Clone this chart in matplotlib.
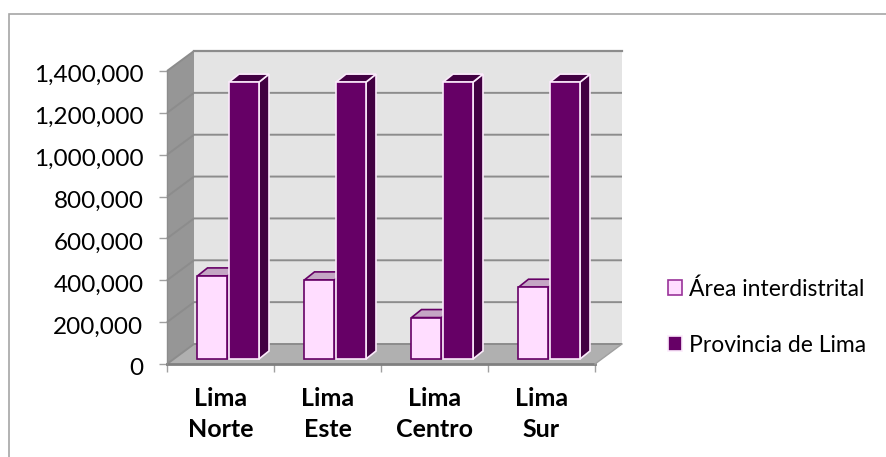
import matplotlib
matplotlib.use("Agg")
import matplotlib.pyplot as plt
from matplotlib.patches import Polygon, Rectangle
from matplotlib.transforms import ScaledTranslation

categories = ["Lima\nNorte", "Lima\nEste", "Lima\nCentro", "Lima\nSur"]
area_interdistrital = [397000, 378000, 198000, 343000]
provincia_lima = [1323000, 1323000, 1323000, 1323000]
series_names = ["Área interdistrital", "Provincia de Lima"]
y_ticks = [0, 200000, 400000, 600000, 800000, 1000000, 1200000, 1400000]

W, H = 887, 457
plt.rcParams["font.family"] = ["Lato", "DejaVu Sans"]
fig = plt.figure(figsize=(W / 100, H / 100), dpi=100, facecolor="white")
border = Rectangle((9 / W, 1 - 480 / H), 900 / W, 465.5 / H, transform=fig.transFigure,
                   fc="none", ec="#a6a6a6", lw=1.2, zorder=-1)
fig.add_artist(border)

L, R, B, T = 167, 595, 364, 71
ax = fig.add_axes([L / W, 1 - B / H, (R - L) / W, (B - T) / H])
ax.set_xlim(0, 4)
ax.set_ylim(0, 1400000)
ax.patch.set_visible(False)
for s in ax.spines.values():
    s.set_visible(False)

px_x = 4 / (R - L)
px_y = 1400000 / (B - T)
DX, DY = 27 * px_x, 20 * px_y
top = 1400000
BG, SIDE, FLOOR, GRID = "#e4e4e4", "#969696", "#b0b0b0", "#8c8c8c"


def poly(pts, fc, ec="none", lw=0, z=1):
    ax.add_patch(Polygon(pts, closed=True, fc=fc, ec=ec, lw=lw, zorder=z, clip_on=False,
                         joinstyle="miter"))


# back wall, side wall, floor
poly([(DX, DY), (4 + DX, DY), (4 + DX, top + DY), (DX, top + DY)], BG)
poly([(0, 0), (DX, DY), (DX, top + DY), (0, top)], SIDE)
poly([(0, 0), (4, 0), (4 + DX, DY), (DX, DY)], FLOOR)
ax.plot([DX, 4 + DX], [top + DY, top + DY], color=GRID, lw=1.6, zorder=1.5, clip_on=False)
for v in y_ticks:
    ax.plot([0, DX, 4 + DX], [v, v + DY, v + DY], color=GRID, lw=1.4, zorder=1.5, clip_on=False,
            solid_capstyle="butt", solid_joinstyle="miter")
ax.plot([0, 4], [0, 0], color="#808080", lw=2, zorder=1.6, clip_on=False)
ax.plot([4, 4 + DX], [0, DY], color="#a0a0a0", lw=1, zorder=1.6, clip_on=False)
ax.plot([0, 0], [0, top], color="#8c8c8c", lw=1, zorder=1.6, clip_on=False)

# 3-D bars
bar_w = 30 * px_x
ddx, ddy = 10 * px_x, 8 * px_y
base = 5 * px_y
off = 31.5 * px_x


def bar3d(x0, w, v, front, topc, sidec, ec, z):
    x1 = x0 + w
    y0, y1 = base, base + v
    poly([(x1, y0), (x1 + ddx, y0 + ddy), (x1 + ddx, y1 + ddy), (x1, y1)], sidec, ec, 1.2, z)
    poly([(x0, y1), (x1, y1), (x1 + ddx, y1 + ddy), (x0 + ddx, y1 + ddy)], topc, ec, 1.2, z)
    poly([(x0, y0), (x1, y0), (x1, y1), (x0, y1)], front, ec, 1.2, z + 0.1)


for i, (a, p) in enumerate(zip(area_interdistrital, provincia_lima)):
    x = i + 0.285
    bar3d(x, bar_w, a, "#ffddff", "#c4a6c4", "#b090b0", "#660066", 3 + i)
    bar3d(x + off, bar_w, p, "#660066", "#420042", "#420042", "#fbeafb", 3.5 + i)

# ticks and labels
ax.set_yticks(y_ticks)
ax.set_yticklabels([f"{v:,}" for v in y_ticks])
ax.set_xticks([0, 1, 2, 3, 4])
ax.set_xticklabels([])
ax.tick_params(axis="both", length=6, width=1, color="#a0a0a0", labelsize=17.5, labelcolor="black")
ax.tick_params(axis="y", pad=11)
shift = ScaledTranslation(0, -2 / 72, fig.dpi_scale_trans)
for lab in ax.get_yticklabels():
    lab.set_transform(lab.get_transform() + shift)
for i, c in enumerate(categories):
    ax.annotate(c, (i + 0.5, 0), xytext=(0, -16.5), textcoords="offset points", ha="center", va="top",
                fontsize=18, fontweight="bold", linespacing=1.42, annotation_clip=False)

# legend
h1 = Rectangle((0, 0), 1, 1, fc="#ffddff", ec="#993399", lw=1.2)
h2 = Rectangle((0, 0), 1, 1, fc="#660066", ec="#fbeafb", lw=1.2)
fig.legend([h1, h2], series_names, loc="upper left", bbox_to_anchor=(668 / W, 1 - 278 / H),
           frameon=False, fontsize=16.5, handlelength=0.62, handleheight=0.62, handletextpad=0.28,
           labelspacing=1.53, borderpad=0, borderaxespad=0)

fig.savefig("out.png", dpi=100)
